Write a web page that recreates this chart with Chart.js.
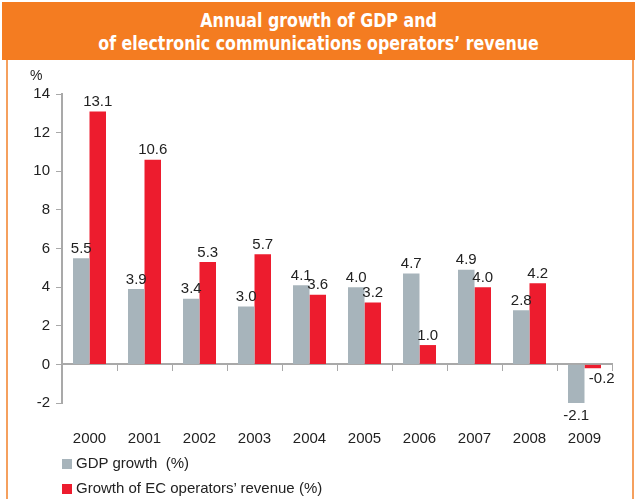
<!DOCTYPE html>
<html>
<head>
<meta charset="utf-8">
<script src="https://cdn.jsdelivr.net/npm/chart.js@4.4.0/dist/chart.umd.min.js"></script>
<style>
  html, body { margin: 0; padding: 0; background: #fff; }
  #wrap { position: relative; width: 640px; height: 499px; overflow: hidden; background: #fff; }
  #header {
    position: absolute; left: 2px; top: 2px; width: 633px; height: 58px;
    background: #F47C21;
  }
  #htext {
    position: absolute; left: 0; top: 7px; width: 633px; color: #fff; text-align: center;
    font-family: "Liberation Sans Narrow", "DejaVu Sans Condensed", "Liberation Sans", sans-serif;
    font-weight: bold; font-size: 20px; line-height: 23px;
    transform: scaleX(0.88); transform-origin: 50% 0;
  }
  #lline { position: absolute; left: 6px; top: 60px; width: 2px; height: 439px; background: #F5A05E; }
  #rline { position: absolute; left: 632px; top: 60px; width: 2px; height: 439px; background: #F5A05E; }
  #chartbox { position: absolute; left: 0; top: 0; width: 640px; height: 499px; }
  #pct { position: absolute; left: 30px; top: 67px; font: 14px "Liberation Sans", Arial, sans-serif; color: #222; }
  .leg { position: absolute; left: 62px; font: 15px "Liberation Sans", Arial, sans-serif; color: #222; }
  .leg span.sw { display: inline-block; width: 10px; height: 10px; margin-right: 4px; vertical-align: -1px; }
</style>
</head>
<body>
<div id="wrap">
  <div id="header"><div id="htext">Annual growth of GDP and<br>of electronic communications operators’ revenue</div></div>
  <div id="lline"></div>
  <div id="rline"></div>
  <div id="chartbox"><canvas id="c" width="640" height="499"></canvas></div>
  <div id="pct">%</div>
  <div class="leg" id="leg1" style="top:454px"><span class="sw" style="background:#A7B4BB"></span>GDP growth&nbsp; (%)</div>
  <div class="leg" id="leg2" style="top:479px"><span class="sw" style="background:#ED1C2E"></span>Growth of EC operators’ revenue (%)</div>
</div>
<script>
const years = ["2000","2001","2002","2003","2004","2005","2006","2007","2008","2009"];
const gdpGrowth = [5.5, 3.9, 3.4, 3.0, 4.1, 4.0, 4.7, 4.9, 2.8, -2.1];
const ecRevenueGrowth = [13.1, 10.6, 5.3, 5.7, 3.6, 3.2, 1.0, 4.0, 4.2, -0.2];
const seriesNames = ["GDP growth  (%)", "Growth of EC operators’ revenue (%)"];
const yMin = -2, yMax = 14, yStep = 2;

const labelFont = '15px "Liberation Sans", Arial, sans-serif';

const valueLabels = {
  id: 'valueLabels',
  afterDatasetsDraw(chart) {
    const ctx = chart.ctx;
    ctx.save();
    ctx.font = labelFont;
    ctx.fillStyle = '#222';
    ctx.textAlign = 'center';
    chart.data.datasets.forEach((ds, di) => {
      const meta = chart.getDatasetMeta(di);
      meta.data.forEach((bar, i) => {
        const v = ds.data[i];
        const txt = v.toFixed(1);
        if (v >= 0) {
          ctx.textBaseline = 'bottom';
          ctx.fillText(txt, bar.x, bar.y - 2);
        } else {
          ctx.textBaseline = 'top';
          const dx = (di === 1) ? 9 : 0;
          ctx.fillText(txt, bar.x + dx, bar.y + 3);
        }
      });
    });
    ctx.restore();
  }
};

new Chart(document.getElementById('c'), {
  type: 'bar',
  data: {
    labels: years,
    datasets: [
      { label: seriesNames[0], data: gdpGrowth, backgroundColor: '#A7B4BB', xAxisID: 'x', categoryPercentage: 0.6, barPercentage: 1.0 },
      { label: seriesNames[1], data: ecRevenueGrowth, backgroundColor: '#ED1C2E', xAxisID: 'x', categoryPercentage: 0.6, barPercentage: 1.0 }
    ]
  },
  options: {
    responsive: false,
    animation: false,
    layout: { padding: { left: 22, right: 28, top: 94, bottom: 56 } },
    plugins: { legend: { display: false }, title: { display: false }, tooltip: { enabled: false } },
    scales: {
      x: {
        type: 'category',
        position: { y: 0 },
        offset: true,
        grid: { display: true, drawOnChartArea: false, drawTicks: true, tickLength: 6, offset: true, color: '#A9A9A9', lineWidth: 1 },
        border: { display: true, color: '#A9A9A9', width: 2 },
        ticks: { display: false }
      },
      x2: {
        type: 'category',
        labels: years,
        position: 'bottom',
        offset: true,
        afterFit(s) { s.height = 40; },
        grid: { display: false },
        border: { display: false },
        ticks: { color: '#222', font: { family: '"Liberation Sans", Arial, sans-serif', size: 15 }, padding: 19, maxRotation: 0 }
      },
      y: {
        min: yMin, max: yMax,
        afterFit(s) { s.width = 40; },
        grid: { display: true, drawOnChartArea: false, drawTicks: true, tickLength: 6, color: '#A9A9A9' },
        border: { display: true, color: '#A9A9A9', width: 2 },
        ticks: { stepSize: yStep, color: '#222', font: { family: '"Liberation Sans", Arial, sans-serif', size: 15 }, padding: 6 }
      }
    }
  },
  plugins: [valueLabels]
});
</script>
</body>
</html>
